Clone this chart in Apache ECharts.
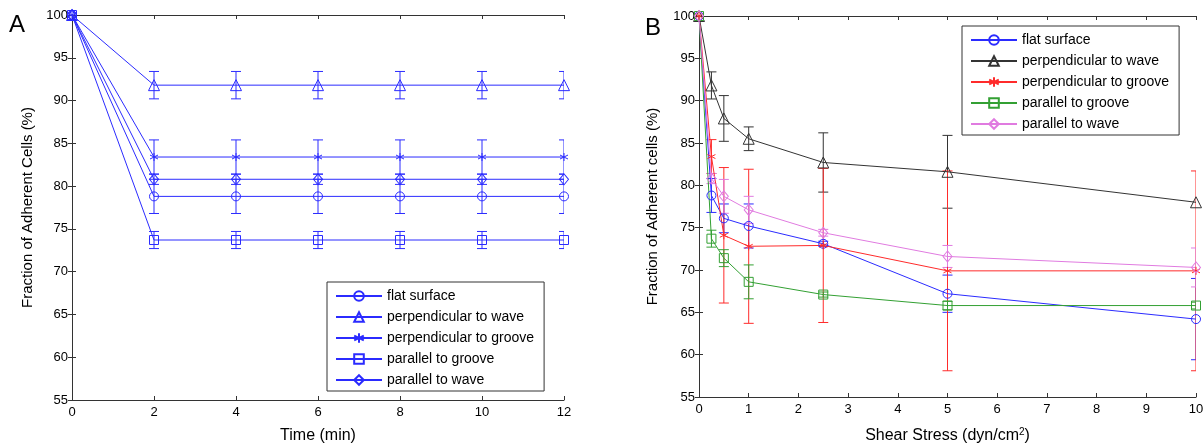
<!DOCTYPE html>
<html><head><meta charset="utf-8">
<script src="https://cdn.jsdelivr.net/npm/echarts@6/dist/echarts.min.js"></script>
<style>html,body{margin:0;padding:0;background:#fff}#c{width:1204px;height:444px}</style>
</head><body><div id="c"></div><script>
// ---------- data ----------
const seriesNames = ['flat surface','perpendicular to wave','perpendicular to groove','parallel to groove','parallel to wave'];
const yTicks = [55,60,65,70,75,80,85,90,95,100];

// Panel A: time (min)
const timeMin = [0,2,4,6,8,10,12];
const aFlat        = [100,78.8,78.8,78.8,78.8,78.8,78.8];
const aFlatErr     = [0,2,2,2,2,2,2];
const aPerpWave    = [100,91.8,91.8,91.8,91.8,91.8,91.8];
const aPerpWaveErr = [0,1.6,1.6,1.6,1.6,1.6,1.6];
const aPerpGroove    = [100,83.4,83.4,83.4,83.4,83.4,83.4];
const aPerpGrooveErr = [0,2,2,2,2,2,2];
const aParGroove    = [100,73.7,73.7,73.7,73.7,73.7,73.7];
const aParGrooveErr = [0,1,1,1,1,1,1];
const aParWave    = [100,80.8,80.8,80.8,80.8,80.8,80.8];
const aParWaveErr = [0,0.6,0.6,0.6,0.6,0.6,0.6];

// Panel B: shear stress (dyn/cm2)
const shear = [0,0.25,0.5,1,2.5,5,10];
const bFlat        = [100,78.8,76.1,75.2,73.1,67.2,64.2];
const bFlatErr     = [0,2,1.7,2.6,0.3,2.2,4.8];
const bPerpWave    = [100,91.8,87.9,85.5,82.7,81.6,78.0];
const bPerpWaveErr = [0,1.6,2.7,1.4,3.5,4.3,0];
const bPerpGroove    = [100,83.4,74.1,72.8,72.9,69.9,69.9];
const bPerpGrooveErr = [0,2,8,9.1,9.1,11.8,11.8];
const bParGroove    = [100,73.7,71.4,68.6,67.1,65.8,65.8];
const bParGrooveErr = [0,1,1,2,0.3,0.5,0.4];
const bParWave    = [100,80.8,78.7,77.1,74.4,71.6,70.3];
const bParWaveErr = [0,0.6,2,1.6,0.4,1.3,2.3];

// ---------- styling ----------
const FONT = '"Liberation Sans", Arial, sans-serif';
const AX = '#333';
const blue = '#2b2bff';
const colorsA = [blue, blue, blue, blue, blue];
const colorsB = ['#2b2bff', '#333333', '#ff2b2b', '#33a033', '#e07be0'];
const STAR = 'path://M0,-10L0,10M-8.66,-5L8.66,5M-8.66,5L8.66,-5';
const symbols = ['circle','triangle',STAR,'rect','diamond'];
const symSizes = [9, 11, 8, 9, [9,11]];

const aVals = [aFlat, aPerpWave, aPerpGroove, aParGroove, aParWave];
const aErrs = [aFlatErr, aPerpWaveErr, aPerpGrooveErr, aParGrooveErr, aParWaveErr];
const bVals = [bFlat, bPerpWave, bPerpGroove, bParGroove, bParWave];
const bErrs = [bFlatErr, bPerpWaveErr, bPerpGrooveErr, bParGrooveErr, bParWaveErr];

function errRender(params, api) {
  const x = api.value(0), y = api.value(1), e = api.value(2);
  if (!e) return null;
  const t = api.coord([x, y + e]), b = api.coord([x, y - e]);
  const h = 5;
  const st = { stroke: api.visual('color'), lineWidth: 1, fill: null };
  return { type: 'group', children: [
    { type: 'line', shape: { x1: t[0], y1: t[1], x2: b[0], y2: b[1] }, style: st },
    { type: 'line', shape: { x1: t[0]-h, y1: t[1], x2: t[0]+h, y2: t[1] }, style: st },
    { type: 'line', shape: { x1: b[0]-h, y1: b[1], x2: b[0]+h, y2: b[1] }, style: st }
  ]};
}

const series = [];
function addPanel(prefix, xs, vals, errs, colors, axisIdx) {
  vals.forEach((v, i) => {
    series.push({
      type: 'custom', name: prefix + 'err' + i, xAxisIndex: axisIdx, yAxisIndex: axisIdx,
      renderItem: errRender, clip: true, silent: true, z: 2,
      itemStyle: { color: colors[i] },
      data: xs.map((x, k) => [x, v[k], errs[i][k]])
    });
  });
  vals.forEach((v, i) => {
    series.push({
      type: 'line', name: prefix + seriesNames[i], xAxisIndex: axisIdx, yAxisIndex: axisIdx,
      data: xs.map((x, k) => [x, v[k]]),
      symbol: symbols[i], symbolSize: symSizes[i], showAllSymbol: true,
      lineStyle: { color: colors[i], width: 1 },
      itemStyle: { color: 'rgba(0,0,0,0)', borderColor: colors[i], borderWidth: 1 },
      emphasis: { disabled: true }, animation: false, z: 3, clip: true
    });
  });
}
addPanel('A:', timeMin, aVals, aErrs, colorsA, 0);
addPanel('B:', shear, bVals, bErrs, colorsB, 2);

function xAx(grid, max, interval, name, nameGap, pos) {
  const main = pos === 'bottom';
  return {
    type: 'value', gridIndex: grid, position: pos, min: 0, max: max, interval: interval,
    name: main ? name : '', nameLocation: 'middle', nameGap: nameGap,
    nameTextStyle: { fontFamily: FONT, fontSize: 16, color: '#000',
      rich: { a: { fontFamily: FONT, fontSize: 16, color: '#000' },
              s: { fontFamily: FONT, fontSize: 10, color: '#000', padding: [0,0,8,0] } } },
    axisLine: { show: true, lineStyle: { color: AX, width: 1 } },
    axisTick: { show: true, inside: true, length: 4, lineStyle: { color: AX } },
    axisLabel: { show: main, fontFamily: FONT, fontSize: 13, color: '#000', margin: 6 },
    splitLine: { show: false }
  };
}
function yAx(grid, name, nameGap, pos) {
  const main = pos === 'left';
  return {
    type: 'value', gridIndex: grid, position: pos, min: 55, max: 100, interval: 5,
    name: main ? name : '', nameLocation: 'middle', nameGap: nameGap, nameRotate: 90,
    nameTextStyle: { fontFamily: FONT, fontSize: 15, color: '#000' },
    axisLine: { show: true, lineStyle: { color: AX, width: 1 } },
    axisTick: { show: true, inside: true, length: 4, lineStyle: { color: AX } },
    axisLabel: { show: main, fontFamily: FONT, fontSize: 13, color: '#000', margin: 4,
      formatter: v => (yTicks.indexOf(v) >= 0 ? String(v) : '') },
    splitLine: { show: false }
  };
}

function legend(prefix, left, top) {
  return {
    data: seriesNames.map(n => prefix + n), orient: 'vertical', left: left, top: top,
    itemWidth: 46, itemHeight: 12, itemGap: 7, padding: [7, 10, 4, 8],
    borderColor: AX, borderWidth: 1, backgroundColor: '#fff', selectedMode: false,
    formatter: n => n.slice(2),
    textStyle: { fontFamily: FONT, fontSize: 14, color: '#000' }
  };
}

const option = {
  animation: false,
  backgroundColor: '#fff',
  grid: [
    { left: 72, top: 15, width: 492, height: 385, containLabel: false, outerBoundsMode: 'none' },
    { left: 699, top: 16, width: 497, height: 381, containLabel: false, outerBoundsMode: 'none' }
  ],
  xAxis: [
    xAx(0, 12, 2, 'Time (min)', 28, 'bottom'),
    xAx(0, 12, 2, '', 0, 'top'),
    xAx(1, 10, 1, '{a|Shear Stress (dyn/cm}{s|2}{a|)}', 30, 'bottom'),
    xAx(1, 10, 1, '', 0, 'top')
  ],
  yAxis: [
    yAx(0, 'Fraction of Adherent Cells (%)', 37, 'left'),
    yAx(0, '', 0, 'right'),
    yAx(1, 'Fraction of Adherent cells (%)', 39, 'left'),
    yAx(1, '', 0, 'right')
  ],
  legend: [ legend('A:', 327, 282), legend('B:', 962, 26) ],
  graphic: [
    { type: 'text', left: 9, top: 13, style: { text: 'A', fontFamily: FONT, fontSize: 24, fill: '#000' } },
    { type: 'text', left: 645, top: 16, style: { text: 'B', fontFamily: FONT, fontSize: 24, fill: '#000' } }
  ],
  series: series
};
const chart = echarts.init(document.getElementById('c'), null, { renderer: 'canvas' });
chart.setOption(option);
</script></body></html>
